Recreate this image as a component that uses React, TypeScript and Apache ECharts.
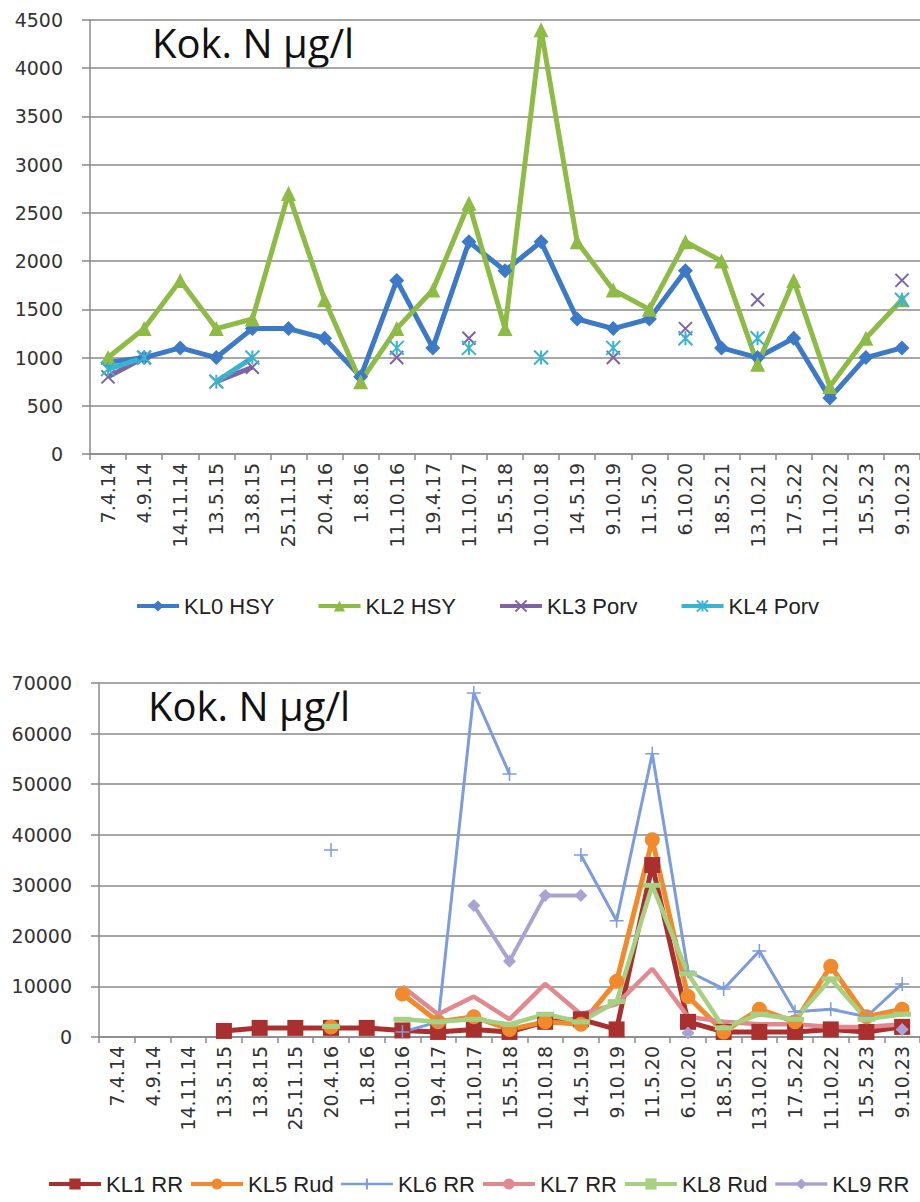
import React, { useEffect, useRef } from "react";
import * as echarts from "echarts";

const categories = ["7.4.14","4.9.14","14.11.14","13.5.15","13.8.15","25.11.15","20.4.16","1.8.16","11.10.16","19.4.17","11.10.17","15.5.18","10.10.18","14.5.19","9.10.19","11.5.20","6.10.20","18.5.21","13.10.21","17.5.22","11.10.22","15.5.23","9.10.23"];

const titleText = "Kok. N µg/l";

// top chart
const kl0Hsy = [950,1000,1100,1000,1300,1300,1200,800,1800,1100,2200,1900,2200,1400,1300,1400,1900,1100,1000,1200,580,1000,1100];
const kl2Hsy = [1000,1300,1800,1300,1400,2700,1600,750,1300,1700,2600,1300,4400,2200,1700,1500,2200,2000,930,1800,700,1200,1600];
const kl3Porv = [800,1000,null,750,900,null,null,null,1000,null,1200,null,null,null,1000,null,1300,null,1600,null,null,null,1800];
const kl4Porv = [880,1000,null,750,1000,null,null,null,1100,null,1100,null,1000,null,1100,null,1200,null,1200,null,null,null,1600];

// bottom chart
const kl1Rr = [null,null,null,1200,1800,1800,1800,1800,1300,1000,1500,1000,3000,3500,1500,34000,3000,1000,1000,1000,1500,1000,2000];
const kl5Rud = [null,null,null,null,null,null,2000,null,8500,3000,4000,1500,3000,2500,11000,39000,8000,1000,5500,3000,14000,4000,5500];
const kl6Rr = [null,null,null,null,null,null,37000,null,1000,3000,68000,52000,null,36000,23000,56000,13000,9500,17000,5000,5500,4000,10500];
const kl7Rr = [null,null,null,null,null,null,null,null,10000,4500,8000,3500,10500,4500,6500,13500,4000,3000,2500,2500,2000,2000,2500];
const kl8Rud = [null,null,null,null,null,null,2100,null,3500,3000,3500,2500,4500,3000,7000,30000,12500,1800,4500,3500,11500,3500,4500];
const kl9Rr = [null,null,null,null,null,null,null,null,null,null,26000,15000,28000,28000,null,null,800,null,null,null,null,null,1500];

const TICK_FONT = "'DejaVu Sans', sans-serif";
const LEG_FONT = "'Liberation Sans', Arial, sans-serif";
const GRID_COLOR = "#8a8a8a";

const X_PATH = "path://M0,0L10,10M10,0L0,10";
const STAR_PATH = "path://M5,0L5,10M0,0L10,10M10,0L0,10";
const PLUS_PATH = "path://M5,0L5,10M0,5L10,5";

function xAxisCfg(gridIndex: number) {
  return {
    type: "category",
    gridIndex,
    data: categories,
    boundaryGap: true,
    axisLine: { show: true, lineStyle: { color: GRID_COLOR, width: 1.5 } },
    axisTick: { show: true, length: 6, lineStyle: { color: GRID_COLOR, width: 1.5 } },
    axisLabel: { interval: 0, rotate: 90, margin: 9, color: "#333", fontFamily: TICK_FONT, fontSize: 19 },
    splitLine: { show: false },
  };
}

function yAxisCfg(gridIndex: number, max: number, interval: number) {
  return {
    type: "value",
    gridIndex,
    min: 0,
    max,
    interval,
    axisLine: { show: true, lineStyle: { color: GRID_COLOR, width: 1.5 } },
    axisTick: { show: true, length: 8, lineStyle: { color: GRID_COLOR, width: 1.5 } },
    axisLabel: {
      margin: 27,
      color: "#333",
      fontFamily: TICK_FONT,
      fontSize: 19,
      formatter: (v: number) => String(v),
    },
    splitLine: { show: true, lineStyle: { color: GRID_COLOR, width: 1.5 } },
  };
}

function lineSeries(name: string, data: (number | null)[], color: string, idx: number, opts: any) {
  return {
    name,
    type: "line",
    xAxisIndex: idx,
    yAxisIndex: idx,
    data,
    color,
    showSymbol: true,
    connectNulls: false,
    lineStyle: { color, width: opts.width },
    symbol: opts.symbol,
    symbolSize: opts.size,
    itemStyle: { color, borderColor: color, borderWidth: opts.border ?? 0 },
  };
}

export default function App() {
  const ref = useRef<HTMLDivElement>(null);
  useEffect(() => {
    document.body.style.margin = "0";
    if (!ref.current) return;
    const chart = echarts.init(ref.current, null, { renderer: "svg" });
    chart.setOption({
      animation: false,
      backgroundColor: "#ffffff",
      grid: [
        { left: 90, top: 20, width: 836, height: 434 },
        { left: 99, top: 683, width: 828, height: 354 },
      ],
      xAxis: [xAxisCfg(0), xAxisCfg(1)],
      yAxis: [yAxisCfg(0, 4500, 500), yAxisCfg(1, 70000, 10000)],
      legend: [
        {
          data: ["KL0 HSY", "KL2 HSY", "KL3 Porv", "KL4 Porv"],
          left: 135,
          top: 595,
          width: 780,
          padding: 0,
          itemWidth: 42,
          itemHeight: 14,
          itemGap: 42,
          lineStyle: { width: 4 },
          textStyle: { fontFamily: LEG_FONT, fontSize: 22, color: "#222" },
        },
        {
          data: [
            { name: "KL1 RR", lineStyle: { width: 4 } },
            { name: "KL5 Rud", lineStyle: { width: 4 } },
            { name: "KL6 RR", lineStyle: { width: 2.5 } },
            { name: "KL7 RR", lineStyle: { width: 4 } },
            { name: "KL8 Rud", lineStyle: { width: 4 } },
            { name: "KL9 RR", lineStyle: { width: 3.5 } },
          ],
          left: 47,
          top: 1173,
          width: 1000,
          padding: 0,
          itemWidth: 52,
          itemHeight: 14,
          itemGap: 6,
          textStyle: { fontFamily: LEG_FONT, fontSize: 22, color: "#222" },
        },
      ],
      graphic: [
        { type: "text", left: 152, top: 22, style: { text: titleText, font: "40px 'Open Sans', sans-serif", fill: "#111" } },
        { type: "text", left: 148, top: 685, style: { text: titleText, font: "40px 'Open Sans', sans-serif", fill: "#111" } },
      ],
      series: [
        lineSeries("KL0 HSY", kl0Hsy, "#3C79C7", 0, { width: 5, symbol: "diamond", size: 15 }),
        lineSeries("KL2 HSY", kl2Hsy, "#8DBB45", 0, { width: 5, symbol: "triangle", size: 15 }),
        lineSeries("KL3 Porv", kl3Porv, "#7E63A6", 0, { width: 5, symbol: X_PATH, size: 13, border: 2 }),
        lineSeries("KL4 Porv", kl4Porv, "#3AB3D1", 0, { width: 5, symbol: STAR_PATH, size: 14, border: 2 }),
        lineSeries("KL1 RR", kl1Rr, "#A9302F", 1, { width: 5, symbol: "rect", size: 16 }),
        lineSeries("KL5 Rud", kl5Rud, "#F08A2C", 1, { width: 5, symbol: "circle", size: 15 }),
        lineSeries("KL6 RR", kl6Rr, "#7C9CDB", 1, { width: 3, symbol: PLUS_PATH, size: 14, border: 1.5 }),
        lineSeries("KL7 RR", kl7Rr, "#E2898F", 1, { width: 4.5, symbol: "none", size: 0 }),
        lineSeries("KL8 Rud", kl8Rud, "#A6D183", 1, { width: 4.5, symbol: "rect", size: [18, 5] }),
        lineSeries("KL9 RR", kl9Rr, "#A9A3D3", 1, { width: 4, symbol: "diamond", size: 13 }),
      ],
    });
    return () => chart.dispose();
  }, []);
  return <div ref={ref} style={{ width: 920, height: 1202 }} />;
}
